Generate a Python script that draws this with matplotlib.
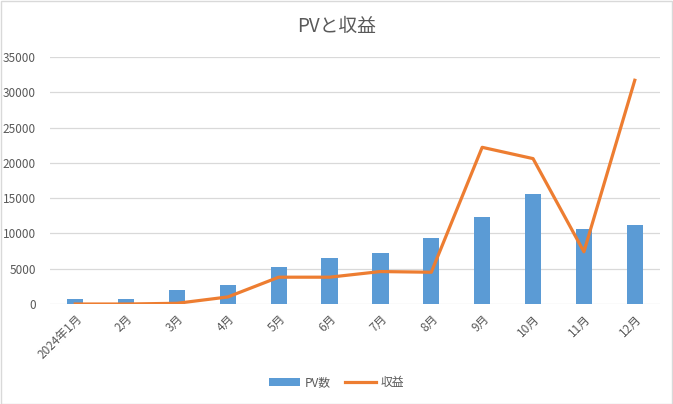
import matplotlib
matplotlib.use("Agg")
import matplotlib.pyplot as plt
from matplotlib.patches import Rectangle
import numpy as np

plt.rcParams['font.family'] = ['Noto Sans CJK JP', 'DejaVu Sans']

months = ["2024年1月", "2月", "3月", "4月", "5月", "6月", "7月", "8月", "9月", "10月", "11月", "12月"]
pv = [700, 700, 2000, 2700, 5200, 6500, 7200, 9350, 12300, 15600, 10600, 11200]
revenue = [0, 0, 100, 1000, 3800, 3800, 4600, 4500, 22200, 20600, 7400, 31700]
yticks = [0, 5000, 10000, 15000, 20000, 25000, 30000, 35000]

text_color = "#595959"
bar_color = "#5B9BD5"
line_color = "#ED7D31"

fig = plt.figure(figsize=(6.73, 4.04), dpi=100)
ax = fig.add_axes([0.074, 0.2475, 0.907, 0.6115])

x = np.arange(len(months))
bars = ax.bar(x, pv, width=0.32, color=bar_color, label="PV数", zorder=2)
line, = ax.plot(x, revenue, color=line_color, linewidth=2.3, label="収益", zorder=3,
                solid_joinstyle="round")

ax.set_xlim(-0.5, len(months) - 0.5)
ax.set_ylim(0, 35000)
ax.set_yticks(yticks)
ax.set_yticklabels([str(v) for v in yticks])
ax.grid(axis="y", color="#D9D9D9", linewidth=0.9, zorder=0)
ax.set_axisbelow(True)
for s in ax.spines.values():
    s.set_visible(False)
ax.tick_params(axis="both", length=0, colors=text_color, labelsize=8.5)
ax.tick_params(axis="y", pad=10)
ax.set_xticks(x)
ax.set_xticklabels(months, rotation=45, ha="right", rotation_mode="anchor")
ax.tick_params(axis="x", pad=6)

fig.text(0.5, 0.935, "PVと収益", ha="center", va="center", fontsize=13.5, color=text_color)

leg = fig.legend([bars, line], ["PV数", "収益"], loc="center", bbox_to_anchor=(0.5, 0.053),
                 ncol=2, frameon=False, fontsize=8.5, handlelength=2.6,
                 columnspacing=1.2, handletextpad=0.4)
for t in leg.get_texts():
    t.set_color(text_color)

fig.patches.append(Rectangle((0.001, 0.001), 0.997, 0.997, transform=fig.transFigure,
                             fill=False, edgecolor="#D9D9D9", linewidth=1.0))

fig.savefig("out.png", dpi=100)
